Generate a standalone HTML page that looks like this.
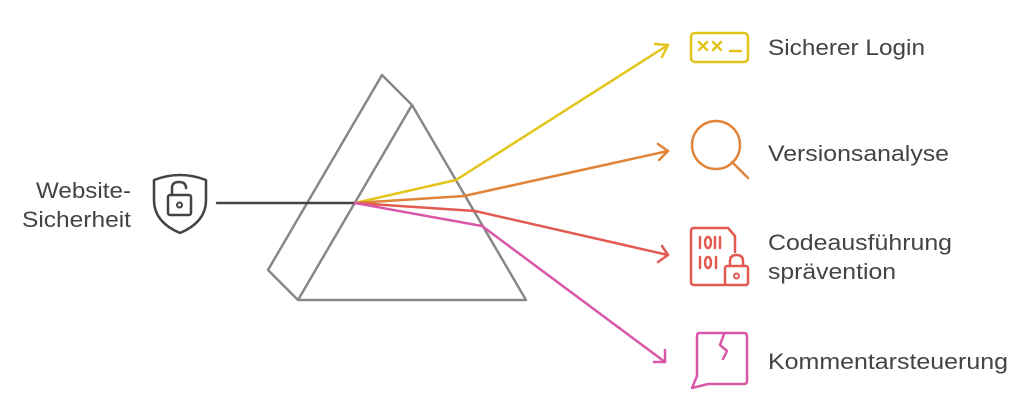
<!DOCTYPE html>
<html><head><meta charset="utf-8"><style>
body{margin:0;background:#fff;width:1035px;height:408px;overflow:hidden}
svg{display:block}
text{font-family:"Liberation Sans",sans-serif;font-size:22px;fill:#444}
</style></head><body>
<svg width="1035" height="408" viewBox="0 0 1035 408">
<g fill="none" stroke-linecap="round" stroke-linejoin="round">
<path d="M382,75 L412,105 L526,300 L298,300 L268,270 Z M412,105 L298,300" stroke="#888" stroke-width="2.5"/>
<path d="M217,203 L355,203" stroke="#444" stroke-width="2.5"/>
<path d="M355,203 L456,180 L668,45" stroke="#e3c51a" stroke-width="2.5"/>
<path d="M655,44 L668,45 L662,57" stroke="#e3c51a" stroke-width="2.5"/>
<path d="M355,203 L464,196 L668,151" stroke="#e0843a" stroke-width="2.5"/>
<path d="M658,144 L668,151 L659,160" stroke="#e0843a" stroke-width="2.5"/>
<path d="M355,203 L475,211 L668,255" stroke="#e25a50" stroke-width="2.5"/>
<path d="M662,246 L668,255 L658,262" stroke="#e25a50" stroke-width="2.5"/>
<path d="M355,203 L482,226 L665,362" stroke="#d957a8" stroke-width="2.5"/>
<path d="M665,350 L665,362 L654,362" stroke="#d957a8" stroke-width="2.5"/>
<path d="M154,180 Q180,170 206,180 L206,200 Q206,222 180,233 Q154,222 154,200 Z" stroke="#444" stroke-width="2.5"/>
<rect x="168" y="195" width="23" height="20" rx="2" stroke="#444" stroke-width="2.5"/>
<path d="M172,195 L172,188 Q172,182 179,182 Q186,182 186,188" stroke="#444" stroke-width="2.5"/>
<circle cx="179.5" cy="205" r="2.5" stroke="#444" stroke-width="2"/>
<rect x="691" y="33" width="57" height="29" rx="4" stroke="#e3c51a" stroke-width="2.5"/>
<path d="M699,42 L707,50 M707,42 L699,50 M713,42 L721,50 M721,42 L713,50 M730,51 L741,51" stroke="#e3c51a" stroke-width="2.5"/>
<circle cx="716" cy="145" r="24" stroke="#e0843a" stroke-width="2.5"/>
<path d="M732,162 L748,178" stroke="#e0843a" stroke-width="2.5"/>
<path d="M735,252 L735,236 L728,228 L694,228 Q691,228 691,231 L691,282 Q691,285 694,285 L725,285" stroke="#e25a50" stroke-width="2.5"/>
<path d="M700,237 L700,248 M715,237 L715,248 M720,237 L720,248 M700,257 L700,268" stroke="#e25a50" stroke-width="2.5"/>
<ellipse cx="708" cy="242.5" rx="3" ry="5.5" stroke="#e25a50" stroke-width="2.5"/>
<ellipse cx="708" cy="262.5" rx="3" ry="5.5" stroke="#e25a50" stroke-width="2.5"/>
<path d="M716,257 L716,268" stroke="#e25a50" stroke-width="2.5"/>
<rect x="725" y="266" width="23" height="19" rx="2" stroke="#e25a50" stroke-width="2.5"/>
<path d="M730,266 L730,261 Q730,255 736.5,255 Q743,255 743,261 L743,266" stroke="#e25a50" stroke-width="2.5"/>
<circle cx="736.5" cy="276" r="2.5" stroke="#e25a50" stroke-width="2"/>
<path d="M699,333 L744,333 Q747,333 747,336 L747,381 Q747,384 744,384 L708,384 L692,388 L697,376 L697,336 Q697,333 699,333 Z" stroke="#d957a8" stroke-width="2.5"/>
<path d="M724,334 L720,345 L727,351 L723,359" stroke="#d957a8" stroke-width="2.5"/>
</g>
<text x="36" y="198" textLength="95" lengthAdjust="spacingAndGlyphs">Website-</text>
<text x="22" y="227" textLength="109" lengthAdjust="spacingAndGlyphs">Sicherheit</text>
<text x="768" y="55" textLength="157" lengthAdjust="spacingAndGlyphs">Sicherer Login</text>
<text x="768" y="161" textLength="181" lengthAdjust="spacingAndGlyphs">Versionsanalyse</text>
<text x="768" y="250" textLength="184" lengthAdjust="spacingAndGlyphs">Codeausführung</text>
<text x="768" y="279" textLength="128" lengthAdjust="spacingAndGlyphs">sprävention</text>
<text x="768" y="369" textLength="240" lengthAdjust="spacingAndGlyphs">Kommentarsteuerung</text>
</svg>
</body></html>
